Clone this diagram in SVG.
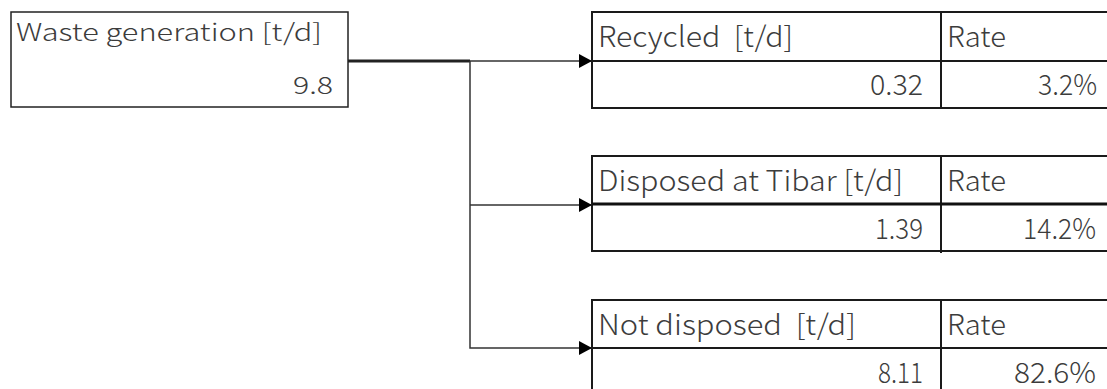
<svg xmlns="http://www.w3.org/2000/svg" width="1107" height="389" viewBox="0 0 1107 389">
  <style>
    .t { font-family: "Noto Sans CJK JP", "Noto Sans", sans-serif; fill: #3c3c3c; font-weight: 300; white-space: pre; }
    .w { font-size: 24px; }
    .s { font-size: 28.5px; }
    .e { text-anchor: end; }
    .box { fill: #ffffff; stroke: #222222; stroke-width: 1.5; }
    .tb { fill: none; stroke: #1a1a1a; stroke-width: 2; }
    .conn { fill: none; stroke: #333333; stroke-width: 1.5; }
  </style>
  <defs>
    <marker id="arr" markerUnits="userSpaceOnUse" markerWidth="16" markerHeight="16" refX="13" refY="7" orient="auto">
      <path d="M0,0 L13,7 L0,14 Z" fill="#000000"/>
    </marker>
  </defs>
  <rect width="1107" height="389" fill="#ffffff"/>

  <g id="connectors">
    <line x1="348" y1="61" x2="470" y2="61" stroke="#222222" stroke-width="3"/>
    <line x1="470" y1="61" x2="592" y2="61" class="conn" stroke="#555555" marker-end="url(#arr)"/>
    <polyline points="470,61 470,348 592,348" class="conn" marker-end="url(#arr)"/>
    <line x1="470" y1="205" x2="592" y2="205" class="conn" marker-end="url(#arr)"/>
  </g>

  <g id="waste-generation">
    <rect x="11" y="12" width="337" height="95" class="box"/>
    <text x="16" y="41" class="t w" textLength="306" lengthAdjust="spacingAndGlyphs">Waste generation [t/d]</text>
    <text x="333" y="94" class="t w e" textLength="40" lengthAdjust="spacingAndGlyphs">9.8</text>
  </g>

  <g id="recycled">
    <path d="M1107,12 H592 V108 H1107 M592,61 H1107 M941,12 V108" class="tb"/>
    <text x="598" y="47" class="t s" textLength="195" lengthAdjust="spacingAndGlyphs">Recycled  [t/d]</text>
    <text x="947" y="47" class="t s" textLength="59" lengthAdjust="spacingAndGlyphs">Rate</text>
    <text x="923" y="95" class="t s e" textLength="53" lengthAdjust="spacingAndGlyphs">0.32</text>
    <text x="1097" y="95" class="t s e" textLength="59" lengthAdjust="spacingAndGlyphs">3.2%</text>
  </g>

  <g id="disposed-tibar">
    <path d="M1107,156 H592 V251 H1107 M941,156 V253" class="tb"/>
    <line x1="592" y1="204" x2="1107" y2="204" stroke="#111111" stroke-width="3"/>
    <text x="598" y="191" class="t s" textLength="305" lengthAdjust="spacingAndGlyphs">Disposed at Tibar [t/d]</text>
    <text x="947" y="191" class="t s" textLength="59" lengthAdjust="spacingAndGlyphs">Rate</text>
    <text x="923" y="239" class="t s e" textLength="48" lengthAdjust="spacingAndGlyphs">1.39</text>
    <text x="1096" y="239" class="t s e" textLength="73" lengthAdjust="spacingAndGlyphs">14.2%</text>
  </g>

  <g id="not-disposed">
    <path d="M1107,300 H592 V389 M592,348 H1107 M941,300 V389" class="tb"/>
    <text x="598" y="335" class="t s" textLength="258" lengthAdjust="spacingAndGlyphs">Not disposed  [t/d]</text>
    <text x="947" y="335" class="t s" textLength="59" lengthAdjust="spacingAndGlyphs">Rate</text>
    <text x="923" y="383" class="t s e" textLength="45" lengthAdjust="spacingAndGlyphs">8.11</text>
    <text x="1096" y="383" class="t s e" textLength="82" lengthAdjust="spacingAndGlyphs">82.6%</text>
  </g>
</svg>
